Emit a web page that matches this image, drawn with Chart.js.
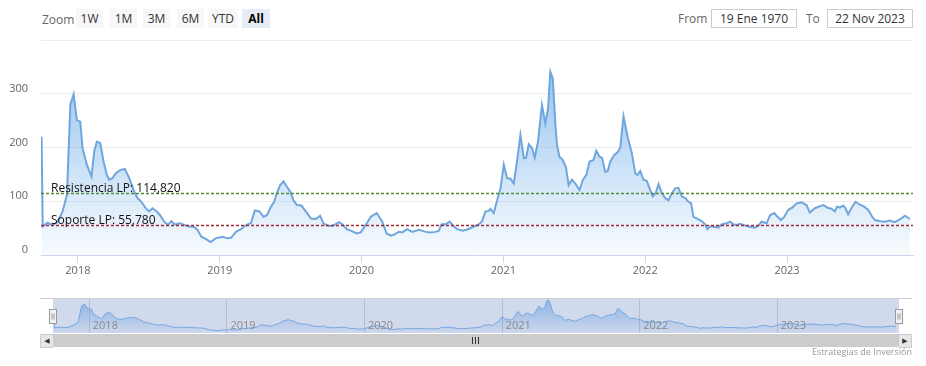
<!DOCTYPE html>
<html lang="es">
<head>
<meta charset="utf-8">
<script src="https://cdn.jsdelivr.net/npm/chart.js@4.4.0/dist/chart.umd.min.js"></script>
<style>
  html, body { margin: 0; padding: 0; background: #fff; }
  body { width: 926px; height: 366px; position: relative; overflow: hidden; font-family: 'Open Sans', 'DejaVu Sans', sans-serif; color: #333; }
  .abs { position: absolute; }
  .zoom-lbl { left: 42px; top: 10px; font-size: 12px; color: #666; line-height: 19px; }
  .btn { top: 9px; height: 19px; line-height: 19px; font-size: 12px; text-align: center; background: #f7f7f7; color: #333; }
  .btn.active { background: #e6ebf5; font-weight: bold; color: #000; }
  .lbl { top: 9px; line-height: 19px; font-size: 12px; color: #666; }
  .box { top: 9px; height: 17px; line-height: 17px; border: 1px solid #cccccc; font-size: 12px; text-align: center; color: #333; }
  #cvMain { left: 0; top: 0; }
  #cvNav { left: 0; top: 290px; }
  .sb-track { left: 40px; top: 334px; width: 872px; height: 13px; background: #f2f2f2; }
  .sb-thumb { left: 53px; top: 334px; width: 846px; height: 13px; background: #cccccc; }
  .sb-btn { top: 334px; width: 12px; height: 12px; background: #e6e6e6; border: 1px solid #cccccc; border-right: none; font-size: 7px; line-height: 12px; text-align: center; color: #333; }
  .sb-grip { left: 472px; top: 337px; width: 1px; height: 7px; background: #333; }
  .credits { right: 14px; top: 345px; font-size: 9px; color: #999; }
</style>
</head>
<body>

<div class="abs zoom-lbl">Zoom</div>
<div class="abs btn" style="left:76px;width:27px">1W</div>
<div class="abs btn" style="left:110px;width:27px">1M</div>
<div class="abs btn" style="left:143px;width:27px">3M</div>
<div class="abs btn" style="left:177px;width:27px">6M</div>
<div class="abs btn" style="left:208px;width:30px">YTD</div>
<div class="abs btn active" style="left:242px;width:28px">All</div>

<div class="abs lbl" style="left:678px">From</div>
<div class="abs box" style="left:711px;width:84px">19 Ene 1970</div>
<div class="abs lbl" style="left:806px">To</div>
<div class="abs box" style="left:827px;width:84px">22 Nov 2023</div>

<canvas id="cvMain" class="abs" width="926" height="290"></canvas>
<canvas id="cvNav" class="abs" width="926" height="50"></canvas>

<div class="abs sb-track"></div>
<div class="abs sb-thumb"></div>
<div class="abs sb-btn" style="left:40px">&#9664;</div>
<div class="abs sb-btn" style="left:899px;border-right:1px solid #ccc;border-left:none">&#9654;</div>
<div class="abs sb-grip"></div>
<div class="abs sb-grip" style="left:475px"></div>
<div class="abs sb-grip" style="left:478px"></div>
<div class="abs credits">Estrategias de Inversión</div>

<script>
// ── DATOS (fecha en años decimales, valor)
const FECHAS = [
  2017.744, 2017.752, 2017.766, 2017.787, 2017.822, 2017.857, 2017.892, 2017.923, 2017.947, 2017.970,
  2017.993, 2018.017, 2018.033, 2018.063, 2018.096, 2018.115, 2018.134, 2018.158, 2018.181, 2018.204,
  2018.221, 2018.244, 2018.267, 2018.298, 2018.331, 2018.362, 2018.397, 2018.420, 2018.448, 2018.479,
  2018.502, 2018.526, 2018.556, 2018.580, 2018.608, 2018.636, 2018.659, 2018.683, 2018.721, 2018.749,
  2018.784, 2018.819, 2018.842, 2018.871, 2018.901, 2018.936, 2018.971, 2019.020, 2019.056, 2019.080,
  2019.115, 2019.150, 2019.173, 2019.196, 2019.220, 2019.248, 2019.279, 2019.309, 2019.333, 2019.361,
  2019.384, 2019.403, 2019.426, 2019.450, 2019.474, 2019.497, 2019.520, 2019.544, 2019.576, 2019.607,
  2019.643, 2019.678, 2019.708, 2019.731, 2019.759, 2019.795, 2019.842, 2019.865, 2019.896, 2019.928,
  2019.966, 2019.994, 2020.030, 2020.065, 2020.107, 2020.146, 2020.177, 2020.206, 2020.229, 2020.264,
  2020.287, 2020.322, 2020.357, 2020.405, 2020.452, 2020.487, 2020.522, 2020.545, 2020.564, 2020.593,
  2020.621, 2020.644, 2020.674, 2020.714, 2020.752, 2020.792, 2020.827, 2020.850, 2020.874, 2020.897,
  2020.909, 2020.932, 2020.956, 2020.980, 2021.003, 2021.026, 2021.050, 2021.073, 2021.096, 2021.120,
  2021.144, 2021.160, 2021.179, 2021.202, 2021.221, 2021.244, 2021.272, 2021.296, 2021.315, 2021.331,
  2021.348, 2021.367, 2021.378, 2021.395, 2021.418, 2021.441, 2021.460, 2021.483, 2021.507, 2021.537,
  2021.561, 2021.585, 2021.608, 2021.636, 2021.655, 2021.678, 2021.695, 2021.718, 2021.735, 2021.754,
  2021.782, 2021.805, 2021.824, 2021.847, 2021.876, 2021.906, 2021.930, 2021.946, 2021.965, 2021.988,
  2022.011, 2022.035, 2022.053, 2022.073, 2022.094, 2022.117, 2022.141, 2022.164, 2022.188, 2022.211,
  2022.234, 2022.258, 2022.282, 2022.305, 2022.324, 2022.340, 2022.368, 2022.398, 2022.422, 2022.439,
  2022.457, 2022.493, 2022.516, 2022.538, 2022.574, 2022.598, 2022.621, 2022.645, 2022.668, 2022.692,
  2022.727, 2022.774, 2022.797, 2022.821, 2022.856, 2022.880, 2022.910, 2022.933, 2022.957, 2022.980,
  2023.009, 2023.037, 2023.067, 2023.102, 2023.137, 2023.161, 2023.196, 2023.225, 2023.255, 2023.285,
  2023.313, 2023.337, 2023.353, 2023.372, 2023.396, 2023.412, 2023.431, 2023.455, 2023.483, 2023.511,
  2023.544, 2023.572, 2023.596, 2023.619, 2023.655, 2023.690, 2023.725, 2023.760, 2023.801, 2023.831,
  2023.866
];
const VALORES = [
  220, 53, 56, 60, 55, 62, 81, 112, 280, 299,
  251, 248, 199, 168, 146, 192, 211, 208, 174, 149,
  140, 143, 152, 158, 160, 143, 118, 106, 99, 87,
  81, 87, 81, 74, 62, 56, 63, 57, 59, 56,
  53, 52, 47, 34, 30, 24, 31, 34, 31, 32,
  43, 48, 53, 57, 59, 83, 81, 71, 74, 90,
  99, 115, 130, 137, 127, 118, 102, 93, 92, 81,
  68, 67, 73, 59, 55, 54, 61, 57, 48, 45,
  40, 42, 56, 71, 78, 62, 40, 36, 38, 43,
  42, 48, 43, 47, 43, 42, 43, 45, 57, 57,
  62, 55, 48, 45, 48, 53, 57, 63, 81, 82,
  86, 78, 102, 124, 168, 143, 142, 133, 174, 223,
  180, 181, 206, 199, 181, 211, 279, 245, 273, 341,
  329, 242, 205, 183, 177, 163, 130, 140, 133, 121,
  140, 149, 174, 177, 194, 183, 181, 155, 156, 174,
  186, 191, 200, 258, 220, 189, 152, 149, 156, 140,
  138, 121, 109, 115, 132, 115, 106, 102, 115, 124,
  125, 109, 106, 99, 96, 71, 67, 63, 57, 48,
  53, 52, 51, 57, 59, 62, 57, 56, 58, 56,
  53, 51, 54, 62, 59, 74, 78, 71, 65, 71,
  84, 88, 96, 98, 93, 79, 87, 90, 93, 88,
  86, 81, 90, 88, 92, 87, 76, 88, 99, 94,
  90, 84, 73, 65, 63, 62, 64, 61, 67, 73,
  67
];
const ANIOS = [2018, 2019, 2020, 2021, 2022, 2023];
const TICKS_Y = [0, 100, 200, 300, 400];
const LINEAS_LP = [
  { valor: 114.82, texto: 'Resistencia LP: 114,820', color: '#4f8a36' },
  { valor: 55.78,  texto: 'Soporte LP: 55,780',      color: '#a0283a' }
];
const X_MIN = 2017.74, X_MAX = 2023.888;

const puntos = FECHAS.map((f, i) => ({ x: f, y: VALORES[i] }));
const FUENTE = "'Open Sans', 'DejaVu Sans', sans-serif";

function degradado(alfaTop, alfaBot) {
  return ctx => {
    const a = ctx.chart.chartArea;
    if (!a) return 'rgba(124,181,236,0.3)';
    const g = ctx.chart.ctx.createLinearGradient(0, a.top, 0, a.bottom);
    g.addColorStop(0, `rgba(124,181,236,${alfaTop})`);
    g.addColorStop(1, `rgba(124,181,236,${alfaBot})`);
    return g;
  };
}

// ── LINEAS DE SOPORTE / RESISTENCIA
const pluginLineas = {
  id: 'lineasLP',
  afterDatasetsDraw(chart) {
    const { ctx, chartArea: a, scales: { y } } = chart;
    ctx.save();
    LINEAS_LP.forEach(l => {
      const py = Math.round(y.getPixelForValue(l.valor)) + 0.5;
      ctx.strokeStyle = l.color;
      ctx.lineWidth = 1.3;
      ctx.setLineDash([3, 2]);
      ctx.beginPath();
      ctx.moveTo(a.left, py);
      ctx.lineTo(a.right, py);
      ctx.stroke();
      ctx.setLineDash([]);
      ctx.fillStyle = '#111';
      ctx.font = '12px ' + FUENTE;
      ctx.textBaseline = 'alphabetic';
      ctx.fillText(l.texto, a.left + 10, py - 2);
    });
    ctx.restore();
  }
};

// ── GRAFICO PRINCIPAL
new Chart(document.getElementById('cvMain'), {
  type: 'line',
  data: {
    datasets: [{
      data: puntos,
      borderColor: '#6fa6dd',
      borderWidth: 2,
      pointRadius: 0,
      tension: 0,
      fill: 'origin',
      backgroundColor: degradado(0.9, 0.05)
    }]
  },
  options: {
    responsive: false,
    animation: false,
    layout: { padding: { top: 40, right: 13, left: 0, bottom: 0 } },
    plugins: { legend: { display: false }, tooltip: { enabled: false } },
    scales: {
      x: {
        type: 'linear',
        min: X_MIN,
        max: X_MAX,
        afterBuildTicks: s => { s.ticks = ANIOS.map(v => ({ value: v })); },
        afterFit: s => { s.height = 35; },
        grid: { drawOnChartArea: false, drawTicks: true, tickLength: 8, color: '#ccd6eb' },
        border: { display: true, color: '#ccd6eb' },
        ticks: { padding: 1, color: '#666', font: { family: FUENTE, size: 11 }, maxRotation: 0, callback: v => String(v) }
      },
      y: {
        min: 0,
        max: 400,
        afterBuildTicks: s => { s.ticks = TICKS_Y.map(v => ({ value: v })); },
        afterFit: s => { s.width = 41; },
        grid: { color: '#ececec', drawTicks: false },
        border: { display: false },
        ticks: { padding: 13, labelOffset: -5, color: '#666', font: { family: FUENTE, size: 11 }, callback: v => v === 400 ? '' : String(v) }
      }
    }
  },
  plugins: [pluginLineas]
});

// ── NAVEGADOR
const pluginNavegador = {
  id: 'navegador',
  beforeDatasetsDraw(chart) {
    const { ctx, chartArea: a, scales: { x } } = chart;
    ctx.save();
    ctx.strokeStyle = '#d6d6d6';
    ctx.lineWidth = 1;
    ANIOS.forEach(v => {
      const px = Math.round(x.getPixelForValue(v)) + 0.5;
      ctx.beginPath();
      ctx.moveTo(px, a.top);
      ctx.lineTo(px, a.bottom);
      ctx.stroke();
    });
    ctx.restore();
  },
  afterDatasetsDraw(chart) {
    const { ctx, chartArea: a, scales: { x } } = chart;
    ctx.save();
    // máscara del rango seleccionado
    ctx.fillStyle = 'rgba(102,133,194,0.3)';
    ctx.fillRect(a.left, a.top, a.right - a.left, a.bottom - a.top);
    // contorno superior
    ctx.strokeStyle = '#cccccc';
    ctx.beginPath();
    ctx.moveTo(40, a.top + 0.5);
    ctx.lineTo(912, a.top + 0.5);
    ctx.stroke();
    // etiquetas de años
    ctx.fillStyle = '#8a8a8a';
    ctx.font = '11px ' + FUENTE;
    ctx.textBaseline = 'middle';
    ANIOS.forEach(v => {
      ctx.fillText(String(v), x.getPixelForValue(v) + 4, a.bottom - 7);
    });
    // asas
    [a.left, a.right].forEach(hx => {
      const x0 = Math.round(hx) - 3.5, y0 = a.top + 11.5;
      ctx.fillStyle = '#f2f2f2';
      ctx.strokeStyle = '#999999';
      ctx.fillRect(x0, y0, 7, 14);
      ctx.strokeRect(x0, y0, 7, 14);
      ctx.beginPath();
      ctx.moveTo(x0 + 2.5, y0 + 4); ctx.lineTo(x0 + 2.5, y0 + 10);
      ctx.moveTo(x0 + 4.5, y0 + 4); ctx.lineTo(x0 + 4.5, y0 + 10);
      ctx.stroke();
    });
    ctx.restore();
  }
};

new Chart(document.getElementById('cvNav'), {
  type: 'line',
  data: {
    datasets: [{
      data: puntos,
      borderColor: '#7cb5ec',
      borderWidth: 1,
      pointRadius: 0,
      tension: 0,
      fill: 'origin',
      backgroundColor: degradado(0.8, 0.05)
    }]
  },
  options: {
    responsive: false,
    animation: false,
    layout: { padding: { top: 8, right: 27, left: 53, bottom: 7 } },
    plugins: { legend: { display: false }, tooltip: { enabled: false } },
    scales: {
      x: { type: 'linear', min: X_MIN, max: X_MAX, display: false },
      y: { min: 0, max: 362, display: false }
    }
  },
  plugins: [pluginNavegador]
});
</script>
</body>
</html>
